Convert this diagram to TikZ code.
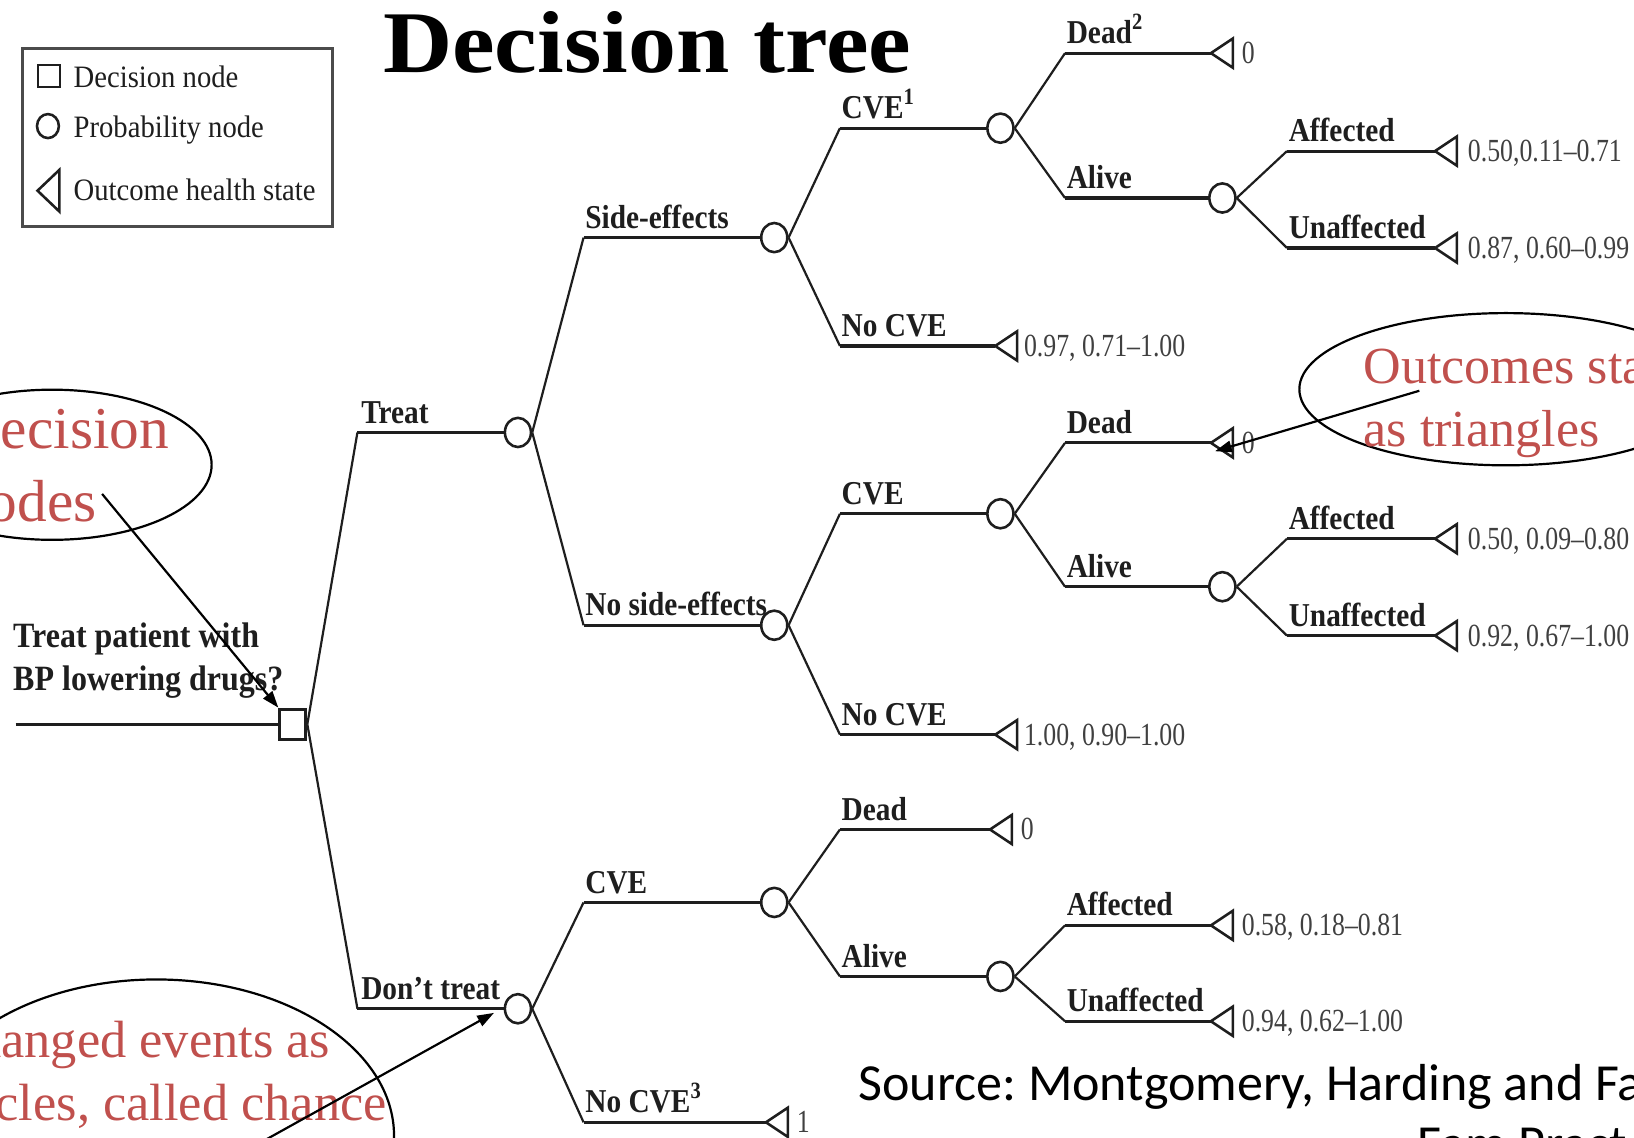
\documentclass[tikz,border=0pt]{standalone}
\usepackage{fontspec}
\setmainfont{Liberation Serif}
\newfontfamily\lblfont[FakeStretch=0.88]{Liberation Serif}
\newfontfamily\qfont[FakeStretch=0.9]{Liberation Serif}
\newfontfamily\valfont[FakeStretch=0.8]{Liberation Serif}
\newfontfamily\legfont[FakeStretch=0.92]{Liberation Serif}
\newfontfamily\titlefont[FakeStretch=1.09]{Liberation Serif}
\newfontfamily\srcfont{Carlito}
\usetikzlibrary{shapes.geometric,arrows.meta,calc}
\definecolor{annred}{RGB}{192,80,77}
\definecolor{ink}{RGB}{30,30,30}
\newcommand\tbranch[3]{\draw[diagline] (#1) -- (#2); \draw[horline] (#2) -- (#3);}
\frenchspacing
\begin{document}
\begin{tikzpicture}[x=0.01cm,y=-0.01cm,
  horline/.style={draw=ink,line width=0.85pt},
  diagline/.style={draw=ink,line width=0.6pt},
  chance/.style={ellipse,draw=ink,line width=0.7pt,fill=white,minimum width=0.25cm,minimum height=0.28cm,inner sep=0pt},
  decis/.style={rectangle,draw=ink,line width=0.8pt,fill=white,minimum width=0.25cm,minimum height=0.29cm,inner sep=0pt},
  lbl/.style={anchor=base west,inner sep=0pt,text=ink,font=\lblfont\bfseries\fontsize{9.1}{10}\selectfont},
  qlbl/.style={anchor=base west,inner sep=0pt,text=ink,font=\qfont\bfseries\fontsize{9.7}{11}\selectfont},
  val/.style={anchor=base west,inner sep=0pt,text=ink!85,font=\valfont\fontsize{8.8}{10}\selectfont},
  legtext/.style={anchor=base west,inner sep=0pt,text=ink,font=\legfont\fontsize{8.5}{10}\selectfont},
  anntext/.style={anchor=base west,inner sep=0pt,text=annred},
  callout/.style={ellipse,draw=black,line width=0.6pt,inner sep=0pt},
  pointer/.style={draw=black,line width=0.6pt,-{Triangle[length=0.16cm,width=0.11cm]}},
  outcome/.pic={\draw[draw=ink,line width=0.7pt,fill=white] (0,0) -- (21,-14) -- (21,14) -- cycle;}
]
\useasboundingbox (0,0) rectangle (1568,1092);
\clip (0,0) rectangle (1568,1092);

% ---------- title ----------
\node[anchor=base west,inner sep=0pt,font=\titlefont\bfseries\fontsize{24}{28}\selectfont] (title) at (367,70) {Decision tree};

% ---------- legend ----------
\node[draw=ink!80,line width=0.8pt,minimum width=2.97cm,minimum height=1.70cm,inner sep=0pt] (legend) at (170.5,132) {};
\node[draw=ink,line width=0.7pt,minimum width=0.21cm,minimum height=0.21cm,inner sep=0pt] (legsq) at (47,73) {};
\node[ellipse,draw=ink,line width=0.7pt,minimum width=0.21cm,minimum height=0.23cm,inner sep=0pt] (legci) at (46,121) {};
\coordinate (legtri) at (36,183);
\draw[draw=ink,line width=0.7pt] (legtri) -- (57,163) -- (57,203) -- cycle;
\node[legtext] (legt1) at (70,84) {Decision node};
\node[legtext] (legt2) at (70,132) {Probability node};
\node[legtext] (legt3) at (70,192) {Outcome health state};

% ---------- tree coordinates ----------
\coordinate (rootstart) at (15,695);
\node[decis] (D) at (281,695) {};
\coordinate (bT) at (343,415);   \node[chance] (cT) at (497,415) {};
\coordinate (bN) at (343,968);   \node[chance] (cN) at (497,968) {};
\coordinate (bS) at (560,228);   \node[chance] (cS) at (743,228) {};
\coordinate (bNS) at (560,600);  \node[chance] (cNS) at (743,600) {};
\coordinate (bNC) at (560,866);  \node[chance] (cNC) at (743,866) {};
\coordinate (bNN) at (560,1077); \coordinate (oNN) at (735,1077);
\coordinate (bSC) at (806,123);  \node[chance] (cSC) at (960,123) {};
\coordinate (bSN) at (806,332);  \coordinate (oSN) at (955,332);
\coordinate (bNSC) at (806,493); \node[chance] (cNSC) at (960,493) {};
\coordinate (bNSN) at (806,705); \coordinate (oNSN) at (955,705);
\coordinate (bNCD) at (806,796); \coordinate (oNCD) at (950,796);
\coordinate (bNCA) at (806,937); \node[chance] (cNCA) at (960,937) {};
\coordinate (bSCD) at (1022,51); \coordinate (oSCD) at (1162,51);
\coordinate (bSCA) at (1022,190);\node[chance] (cSCA) at (1173,190) {};
\coordinate (bNSCD) at (1022,425); \coordinate (oNSCD) at (1162,425);
\coordinate (bNSCA) at (1022,563); \node[chance] (cNSCA) at (1173,563) {};
\coordinate (bNCAA) at (1022,888); \coordinate (oNCAA) at (1162,888);
\coordinate (bNCAU) at (1022,980); \coordinate (oNCAU) at (1162,980);
\coordinate (bSCAA) at (1235,145); \coordinate (oSCAA) at (1377,145);
\coordinate (bSCAU) at (1235,238); \coordinate (oSCAU) at (1377,238);
\coordinate (bNSCAA) at (1235,517); \coordinate (oNSCAA) at (1377,517);
\coordinate (bNSCAU) at (1235,610); \coordinate (oNSCAU) at (1377,610);

% ---------- connectors ----------
\draw[horline] (rootstart) -- (D.west);
\tbranch{D.east}{bT}{cT.west}
\tbranch{D.east}{bN}{cN.west}
\tbranch{cT.east}{bS}{cS.west}
\tbranch{cT.east}{bNS}{cNS.west}
\tbranch{cN.east}{bNC}{cNC.west}
\tbranch{cN.east}{bNN}{oNN}
\tbranch{cS.east}{bSC}{cSC.west}
\tbranch{cS.east}{bSN}{oSN}
\tbranch{cNS.east}{bNSC}{cNSC.west}
\tbranch{cNS.east}{bNSN}{oNSN}
\tbranch{cNC.east}{bNCD}{oNCD}
\tbranch{cNC.east}{bNCA}{cNCA.west}
\tbranch{cSC.east}{bSCD}{oSCD}
\tbranch{cSC.east}{bSCA}{cSCA.west}
\tbranch{cNSC.east}{bNSCD}{oNSCD}
\tbranch{cNSC.east}{bNSCA}{cNSCA.west}
\tbranch{cNCA.east}{bNCAA}{oNCAA}
\tbranch{cNCA.east}{bNCAU}{oNCAU}
\tbranch{cSCA.east}{bSCAA}{oSCAA}
\tbranch{cSCA.east}{bSCAU}{oSCAU}
\tbranch{cNSCA.east}{bNSCAA}{oNSCAA}
\tbranch{cNSCA.east}{bNSCAU}{oNSCAU}

% ---------- outcome triangles ----------
\foreach \o in {oNN,oSN,oNSN,oNCD,oSCD,oNSCD,oNCAA,oNCAU,oSCAA,oSCAU,oNSCAA,oNSCAU}
  \pic at (\o) {outcome};

% ---------- branch labels ----------
\node[lbl] (lT) at ($(bT)+(3,-9)$) {Treat};
\node[lbl] (lN) at ($(bN)+(3,-9)$) {Don’t treat};
\node[lbl] (lS) at ($(bS)+(1,-9)$) {Side-effects};
\node[lbl] (lNS) at ($(bNS)+(1,-9)$) {No side-effects};
\node[lbl] (lNC) at ($(bNC)+(1,-9)$) {CVE};
\node[lbl] (lNN) at ($(bNN)+(1,-9)$) {No CVE\textsuperscript{3}};
\node[lbl] (lSC) at ($(bSC)+(1,-9)$) {CVE\textsuperscript{1}};
\node[lbl] (lSN) at ($(bSN)+(1,-9)$) {No CVE};
\node[lbl] (lNSC) at ($(bNSC)+(1,-9)$) {CVE};
\node[lbl] (lNSN) at ($(bNSN)+(1,-9)$) {No CVE};
\node[lbl] (lNCD) at ($(bNCD)+(1,-9)$) {Dead};
\node[lbl] (lNCA) at ($(bNCA)+(1,-9)$) {Alive};
\node[lbl] (lSCD) at ($(bSCD)+(1,-9)$) {Dead\textsuperscript{2}};
\node[lbl] (lSCA) at ($(bSCA)+(1,-9)$) {Alive};
\node[lbl] (lNSCD) at ($(bNSCD)+(1,-9)$) {Dead};
\node[lbl] (lNSCA) at ($(bNSCA)+(1,-9)$) {Alive};
\node[lbl] (lNCAA) at ($(bNCAA)+(1,-9)$) {Affected};
\node[lbl] (lNCAU) at ($(bNCAU)+(1,-9)$) {Unaffected};
\node[lbl] (lSCAA) at ($(bSCAA)+(1,-9)$) {Affected};
\node[lbl] (lSCAU) at ($(bSCAU)+(1,-9)$) {Unaffected};
\node[lbl] (lNSCAA) at ($(bNSCAA)+(1,-9)$) {Affected};
\node[lbl] (lNSCAU) at ($(bNSCAU)+(1,-9)$) {Unaffected};
\node[qlbl] (lQ1) at (12,621) {Treat patient with};
\node[qlbl] (lQ2) at (12,663) {BP lowering drugs?};

% ---------- outcome values ----------
\node[val] (vNN) at ($(oNN)+(29,10)$) {1};
\node[val] (vSN) at ($(oSN)+(27,10)$) {0.97, 0.71–1.00};
\node[val] (vNSN) at ($(oNSN)+(27,10)$) {1.00, 0.90–1.00};
\node[val] (vNCD) at ($(oNCD)+(29,10)$) {0};
\node[val] (vSCD) at ($(oSCD)+(29,10)$) {0};
\node[val] (vNSCD) at ($(oNSCD)+(29,10)$) {0};
\node[val] (vNCAA) at ($(oNCAA)+(29,10)$) {0.58, 0.18–0.81};
\node[val] (vNCAU) at ($(oNCAU)+(29,10)$) {0.94, 0.62–1.00};
\node[val] (vSCAA) at ($(oSCAA)+(31,10)$) {0.50,0.11–0.71};
\node[val] (vSCAU) at ($(oSCAU)+(31,10)$) {0.87, 0.60–0.99};
\node[val] (vNSCAA) at ($(oNSCAA)+(31,10)$) {0.50, 0.09–0.80};
\node[val] (vNSCAU) at ($(oNSCAU)+(31,10)$) {0.92, 0.67–1.00};

% ---------- source ----------
\node[anchor=base west,inner sep=0pt,font=\srcfont\fontsize{14.2}{17}\selectfont] (src1) at (823,1056) {Source: Montgomery, Harding and Fahey (2001)};
\node[anchor=base west,inner sep=0pt,font=\srcfont\fontsize{14.2}{17}\selectfont] (src2) at (1360,1115) {Fam Pract};

% ---------- annotations ----------
\node[callout,minimum width=3.06cm,minimum height=1.44cm] (e1) at (50,446) {};
\node[anntext,font=\fontsize{16.2}{19}\selectfont] (a1a) at (-41,430) {Decision};
\node[anntext,font=\fontsize{16.2}{19}\selectfont] (a1b) at (-41,500) {nodes};
\coordinate (p1) at (98,474);
\draw[pointer] (p1) -- (D.north west);

\node[callout,minimum width=3.96cm,minimum height=1.46cm] (e2) at (1445,373.5) {};
\node[anntext,font=\fontsize{14.2}{17}\selectfont] (a2a) at (1308,368) {Outcomes states};
\node[anntext,font=\fontsize{14.2}{17}\selectfont] (a2b) at (1308,428) {as triangles};
\coordinate (p2) at (1362,375);
\coordinate (p2tip) at (1166,433);
\draw[pointer] (p2) -- (p2tip);

\node[callout,minimum width=4.56cm,minimum height=3.0cm] (e3) at (150,1090) {};
\node[anntext,font=\fontsize{14.3}{17}\selectfont] (a3a) at (-58,1015) {Changed events as};
\node[anntext,font=\fontsize{14.3}{17}\selectfont] (a3b) at (-58,1075) {circles, called chance};
\node[anntext,font=\fontsize{14.3}{17}\selectfont] (a3c) at (-58,1135) {nodes};
\coordinate (p3) at (240,1102);
\coordinate (p3tip) at (474,972);
\draw[pointer] (p3) -- (p3tip);
\end{tikzpicture}
\end{document}
